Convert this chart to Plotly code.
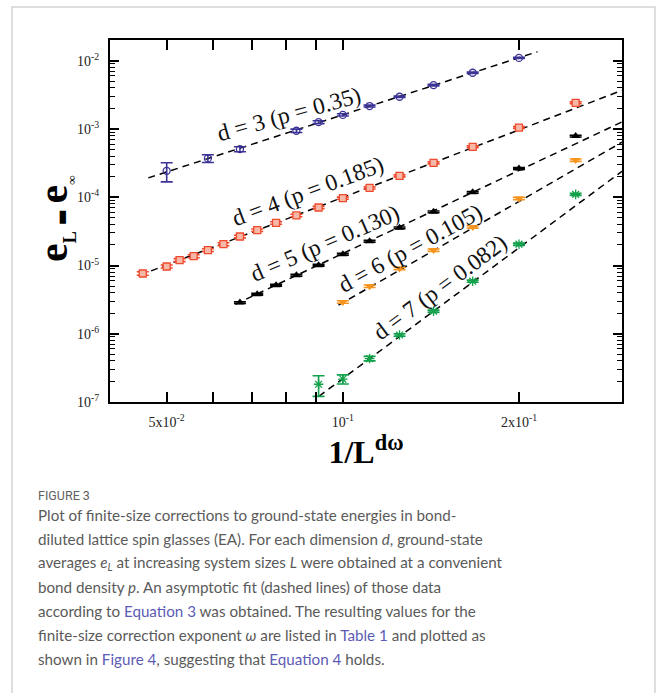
import plotly.graph_objects as go
import math

# ---------------- data ----------------
x3 = [0.0500, 0.0588, 0.0667, 0.0833, 0.0909, 0.1000, 0.1111, 0.1250, 0.1429, 0.1667, 0.2000]
y3 = [2.44e-4, 3.71e-4, 5.07e-4, 9.42e-4, 1.26e-3, 1.61e-3, 2.17e-3, 2.97e-3, 4.40e-3, 6.67e-3, 1.10e-2]
e3 = [7.6e-5, 4.8e-5, 4.3e-5, 5.5e-5, 6.0e-5, 6.0e-5, 7.0e-5, 8.0e-5, 1.1e-4, 1.5e-4, 2.2e-4]

x4 = [0.0455, 0.0500, 0.0526, 0.0556, 0.0588, 0.0625, 0.0667, 0.0714, 0.0769, 0.0833,
      0.0909, 0.1000, 0.1111, 0.1250, 0.1429, 0.1667, 0.2000, 0.2500]
y4 = [7.63e-6, 9.67e-6, 1.20e-5, 1.37e-5, 1.68e-5, 2.05e-5, 2.66e-5, 3.29e-5, 4.20e-5, 5.41e-5,
      7.08e-5, 9.70e-5, 1.37e-4, 2.06e-4, 3.19e-4, 5.48e-4, 1.05e-3, 2.42e-3]
e4 = [4.5e-7, 5.0e-7, 6.0e-7, 7.0e-7, 8.0e-7, 1.0e-6, 1.2e-6, 1.4e-6, 1.8e-6, 2.2e-6,
      2.8e-6, 3.5e-6, 5.0e-6, 7.0e-6, 1.1e-5, 1.8e-5, 3.4e-5, 7.5e-5]

x5 = [0.0667, 0.0714, 0.0769, 0.0833, 0.0909, 0.1000, 0.1111, 0.1250, 0.1429, 0.1667, 0.2000, 0.2500]
y5 = [2.86e-6, 3.79e-6, 5.14e-6, 7.21e-6, 1.01e-5, 1.46e-5, 2.27e-5, 3.56e-5, 6.11e-5, 1.18e-4, 2.64e-4, 7.87e-4]
e5 = [9e-8, 1.1e-7, 1.5e-7, 2.2e-7, 3.0e-7, 4.4e-7, 7.0e-7, 1.1e-6, 1.8e-6, 3.5e-6, 8.0e-6, 2.4e-5]

x6 = [0.1000, 0.1111, 0.1250, 0.1429, 0.1667, 0.2000, 0.2500]
y6 = [2.92e-6, 4.97e-6, 9.03e-6, 1.68e-5, 3.68e-5, 9.59e-5, 3.50e-4]
e6 = [1.2e-7, 2.0e-7, 3.6e-7, 6.7e-7, 1.5e-6, 3.8e-6, 1.4e-5]

x7 = [0.0909, 0.1000, 0.1111, 0.1250, 0.1429, 0.1667, 0.2000, 0.2500]
y7 = [1.82e-7, 2.17e-7, 4.33e-7, 9.59e-7, 2.14e-6, 5.89e-6, 2.05e-5, 1.10e-4]
e7 = [6.1e-8, 3.3e-8, 3.3e-8, 4.0e-8, 8.0e-8, 2.2e-7, 7.5e-7, 4.0e-6]

# fitted asymptotic lines (end points)
fit3_x = [0.0465, 0.2151]
fit3_y = [1.92e-4, 1.355e-2]
fit4_x = [0.0450, 0.300]
fit4_y = [7.21e-6, 3.68e-3]
fit5_x = [0.0655, 0.300]
fit5_y = [2.71e-6, 1.27e-3]
fit6_x = [0.0983, 0.300]
fit6_y = [2.62e-6, 6.40e-4]
fit7_x = [0.0910, 0.300]
fit7_y = [1.21e-7, 2.40e-4]

series_labels = ["d = 3 (p = 0.35)", "d = 4 (p = 0.185)", "d = 5 (p = 0.130)",
                 "d = 6 (p = 0.105)", "d = 7 (p = 0.082)"]

x_tickvals = [0.05, 0.1, 0.2]
x_ticktext = ["5x10<sup>-2</sup>", "10<sup>-1</sup>", "2x10<sup>-1</sup>"]
x_minor = [0.06, 0.07, 0.08, 0.09]
y_tickvals = [1e-7, 1e-6, 1e-5, 1e-4, 1e-3, 1e-2]
y_ticktext = ["10<sup>-7</sup>", "10<sup>-6</sup>", "10<sup>-5</sup>", "10<sup>-4</sup>",
              "10<sup>-3</sup>", "10<sup>-2</sup>"]
y_minor = [m * 10.0 ** k for k in range(-7, -1) for m in range(2, 10)]

x_title = "<b>1/L<sup>dω</sup></b>"
y_title = ("<b>e<sub><span style='font-size:18px'>L</span></sub>"
           "<span style='font-family:DejaVu Sans;font-size:17px'> ▬ </span>"
           "e<sub><span style='font-size:13px'>∞</span></sub></b>")

caption_title = "FIGURE 3"
caption_lines = [
    "Plot of finite-size corrections to ground-state energies in bond-",
    "diluted lattice spin glasses (EA). For each dimension <i>d</i>, ground-state",
    "averages <i>e<sub>L</sub></i> at increasing system sizes <i>L</i> were obtained at a convenient",
    "bond density <i>p</i>. An asymptotic fit (dashed lines) of those data",
    "according to <span style='color:#5b5bb5'>Equation 3</span> was obtained. The resulting values for the",
    "finite-size correction exponent <i>ω</i> are listed in <span style='color:#5b5bb5'>Table 1</span> and plotted as",
    "shown in <span style='color:#5b5bb5'>Figure 4</span>, suggesting that <span style='color:#5b5bb5'>Equation 4</span> holds.",
]

# ---------------- figure ----------------
W, H = 658, 693
L_M, R_M, T_M, B_M = 110, 36, 40, 291
PW = W - L_M - R_M
PH = H - T_M - B_M


def px(xp):
    return (xp - L_M) / PW


def py(yp):
    return (H - B_M - yp) / PH


SERIF = "Liberation Serif, Times New Roman, serif"
fig = go.Figure()

dash = "7px,5px"
for fx, fy in [(fit3_x, fit3_y), (fit4_x, fit4_y), (fit5_x, fit5_y), (fit6_x, fit6_y), (fit7_x, fit7_y)]:
    fig.add_trace(go.Scatter(x=fx, y=fy, mode="lines",
                             line=dict(color="black", width=1.5, dash=dash),
                             hoverinfo="skip", showlegend=False))

c3, c4, c5, c6, c7 = "#3b3396", "#ee4a2d", "#000000", "#f7941d", "#12a14b"


def err(arr, c):
    return dict(type="data", array=arr, visible=True, color=c, thickness=1.6, width=6)


fig.add_trace(go.Scatter(x=x3, y=y3, mode="markers", error_y=err(e3, c3),
                         marker=dict(symbol="circle-open", size=7, color=c3, line=dict(width=1.3)),
                         showlegend=False))
fig.add_trace(go.Scatter(x=x4, y=y4, mode="markers", error_y=err(e4, c4),
                         marker=dict(symbol="square", size=7, color="#f8b8a8",
                                     line=dict(width=1.3, color=c4)),
                         showlegend=False))
fig.add_trace(go.Scatter(x=x5, y=y5, mode="markers", error_y=err(e5, c5),
                         marker=dict(symbol="triangle-up", size=8, color=c5),
                         showlegend=False))
fig.add_trace(go.Scatter(x=x6, y=y6, mode="markers", error_y=err(e6, c6),
                         marker=dict(symbol="triangle-down", size=8, color=c6),
                         showlegend=False))
fig.add_trace(go.Scatter(x=x7, y=y7, mode="markers", error_y=err(e7, c7),
                         marker=dict(symbol="asterisk-open", size=8, color=c7, line=dict(width=1.3, color=c7)),
                         showlegend=False))

# series labels rotated along the fit lines
label_pos = [(289, 114, -15.5), (308, 191, -20.5), (325, 243, -23.5), (410, 247.5, -28.5), (440, 287, -36.5)]
annotations = []
for txt, (lx, ly, ang) in zip(series_labels, label_pos):
    annotations.append(dict(text=txt, x=px(lx), y=py(ly), xref="paper", yref="paper",
                            showarrow=False, textangle=ang, xanchor="center", yanchor="middle",
                            font=dict(family=SERIF, size=23.5, color="#111")))

# y-axis title
annotations.append(dict(text=y_title, x=px(55), y=py(219), xref="paper", yref="paper",
                        showarrow=False, textangle=-90, xanchor="center", yanchor="middle",
                        font=dict(family=SERIF, size=42, color="black")))

# caption
annotations.append(dict(text=caption_title, x=px(36), y=py(496), xref="paper", yref="paper",
                        showarrow=False, xanchor="left", yanchor="middle",
                        font=dict(family="Roboto", size=12.5, color="#5f5f5f")))
cap_y = [514.5, 538.8, 562.8, 587.2, 611.2, 634.5, 658.8]
for line, yy in zip(caption_lines, cap_y):
    annotations.append(dict(text=line, x=px(36), y=py(yy), xref="paper", yref="paper",
                            showarrow=False, xanchor="left", yanchor="middle", align="left",
                            font=dict(family="Lato", size=15.2, color="#5a5a5a")))

shapes = [dict(type="rect", xref="paper", yref="paper", x0=px(12), x1=px(655), y0=py(720), y1=py(7),
               line=dict(color="#d4d4d4", width=1.5), fillcolor="rgba(0,0,0,0)", layer="below")]

fig.update_layout(
    width=W, height=H,
    margin=dict(l=L_M, r=R_M, t=T_M, b=B_M),
    paper_bgcolor="white", plot_bgcolor="white",
    annotations=annotations, shapes=shapes,
    showlegend=False,
)

fig.update_xaxes(
    type="log", range=[math.log10(0.04), math.log10(0.3)],
    tickmode="array", tickvals=x_tickvals, ticktext=x_ticktext,
    ticks="inside", ticklen=10, tickwidth=1.5, tickcolor="black",
    minor=dict(tickmode="array", tickvals=x_minor, ticks="inside", ticklen=10, tickwidth=1.5,
               tickcolor="black", showgrid=False),
    showline=True, linecolor="black", linewidth=2, mirror="ticks",
    showgrid=False, zeroline=False,
    tickfont=dict(family=SERIF, size=14, color="#222"),
    ticklabelstandoff=6,
    title=dict(text=x_title, font=dict(family=SERIF, size=32, color="black"), standoff=12),
    automargin=False,
)
fig.update_yaxes(
    type="log", range=[-7, -1.696],
    tickmode="array", tickvals=y_tickvals, ticktext=y_ticktext,
    ticks="inside", ticklen=9, tickwidth=1.5, tickcolor="black",
    minor=dict(tickmode="array", tickvals=y_minor, ticks="inside", ticklen=5, tickwidth=1.2,
               tickcolor="black", showgrid=False),
    showline=True, linecolor="black", linewidth=2, mirror="ticks",
    showgrid=False, zeroline=False,
    tickfont=dict(family=SERIF, size=14, color="#222"),
    ticklabelstandoff=6,
    automargin=False,
)

fig.write_html("out.html")
